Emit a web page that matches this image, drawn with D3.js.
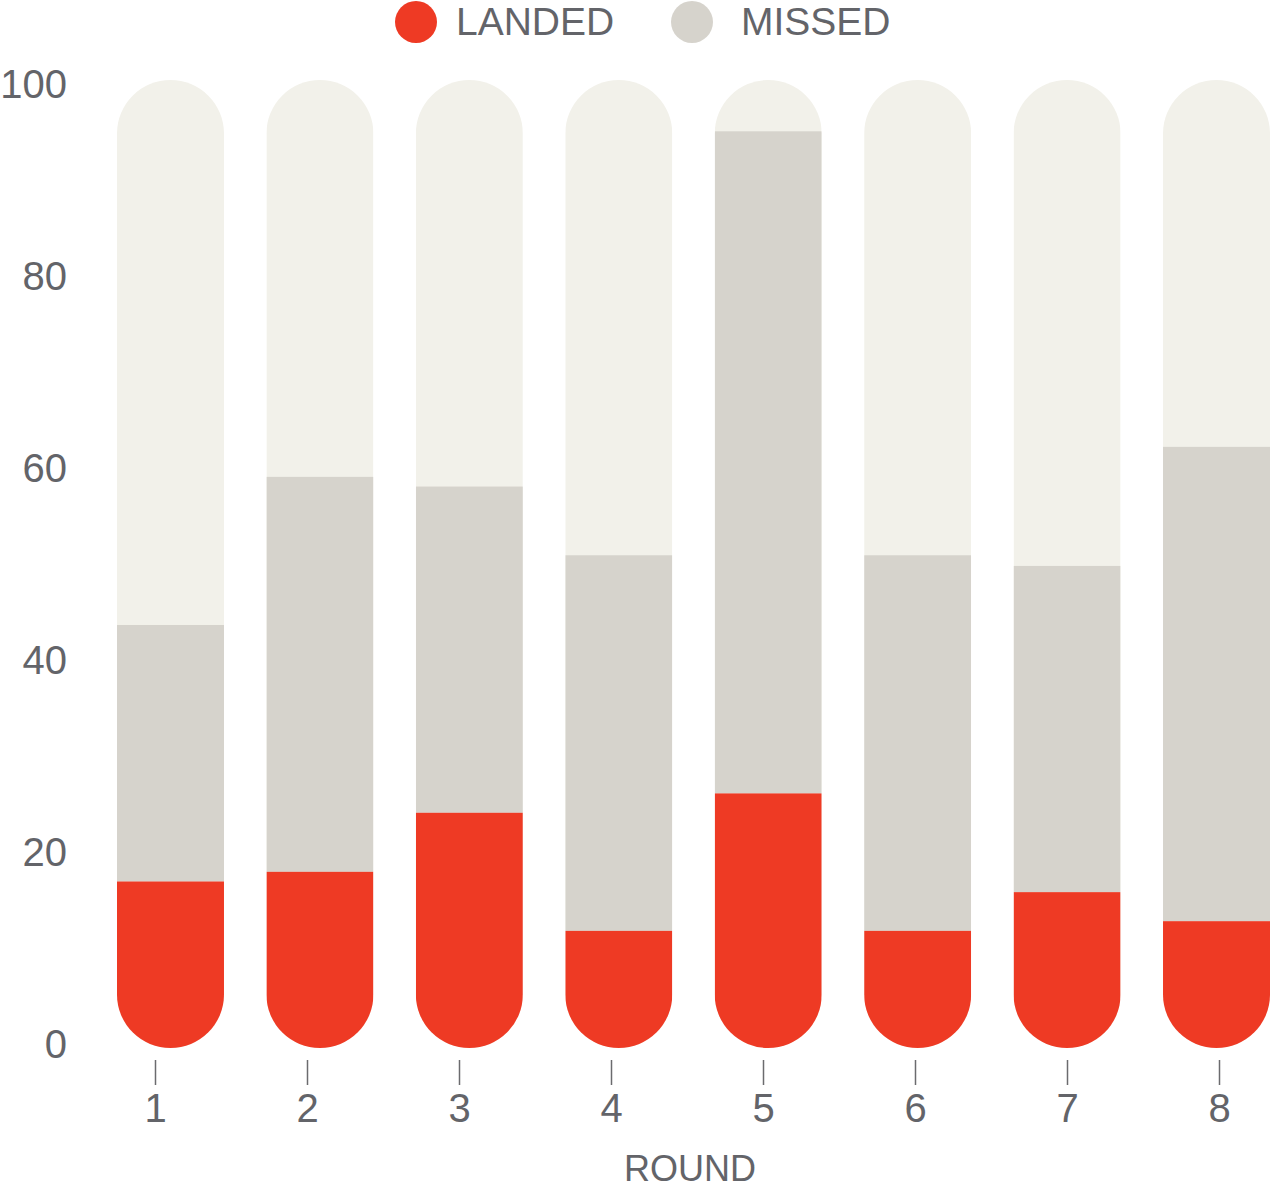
<!DOCTYPE html>
<html>
<head>
<meta charset="utf-8">
<script src="https://cdn.jsdelivr.net/npm/d3@7"></script>
<style>
  body { margin: 0; background: #fff; }
  text { font-family: "Liberation Sans", Arial, sans-serif; fill: #636469; }
</style>
</head>
<body>
<svg id="chart"></svg>
<script>
// rounds and share of punches (percent)
var rounds = ["1", "2", "3", "4", "5", "6", "7", "8"];
var landed = [17.2, 18.2, 24.3, 12.1, 26.3, 12.1, 16.1, 13.1];
var missed = [26.5, 40.8, 33.7, 38.8, 68.4, 38.8, 33.7, 49.0];
var yTicks = [0, 20, 40, 60, 80, 100];
var seriesNames = ["LANDED", "MISSED"];

var colors = { landed: "#ee3a24", missed: "#d6d3cc", back: "#f2f1ea" };

var width = 1287, height = 1188;

var svg = d3.select("#chart")
    .attr("width", width)
    .attr("height", height);

var data = rounds.map(function (r, i) {
    return { round: r, landed: landed[i], missed: missed[i] };
});

var y = d3.scaleLinear().domain([0, 100]).range([1048, 80]);
// labels sit a little inside the bar range
var yLabel = d3.scaleLinear().domain([0, 100]).range([1045, 85]);

var x = d3.scaleBand()
    .domain(rounds)
    .range([117, 1270])
    .paddingInner(0.284)
    .paddingOuter(0);

// tick marks under the bars use their own spacing
var xTick = d3.scalePoint()
    .domain(rounds)
    .range([155, 1219]);

// pill shaped clip for every bar
var defs = svg.append("defs");
defs.selectAll("clipPath")
    .data(data)
    .enter()
    .append("clipPath")
    .attr("id", function (d) { return "pill" + d.round; })
    .append("rect")
    .attr("x", function (d) { return x(d.round); })
    .attr("y", y(100))
    .attr("width", x.bandwidth())
    .attr("height", y(0) - y(100))
    .attr("rx", x.bandwidth() / 2)
    .attr("ry", x.bandwidth() / 2);

var bars = svg.selectAll(".bar")
    .data(data)
    .enter()
    .append("g")
    .attr("class", "bar")
    .attr("clip-path", function (d) { return "url(#pill" + d.round + ")"; });

bars.append("rect")
    .attr("x", function (d) { return x(d.round); })
    .attr("y", y(100))
    .attr("width", x.bandwidth())
    .attr("height", y(0) - y(100))
    .attr("fill", colors.back);

bars.append("rect")
    .attr("x", function (d) { return x(d.round); })
    .attr("y", function (d) { return y(d.landed + d.missed); })
    .attr("width", x.bandwidth())
    .attr("height", function (d) { return y(d.landed) - y(d.landed + d.missed); })
    .attr("fill", colors.missed);

bars.append("rect")
    .attr("x", function (d) { return x(d.round); })
    .attr("y", function (d) { return y(d.landed); })
    .attr("width", x.bandwidth())
    .attr("height", function (d) { return y(0) - y(d.landed); })
    .attr("fill", colors.landed);

// y axis (labels only)
var yAxis = svg.append("g")
    .attr("transform", "translate(70,0)")
    .call(d3.axisLeft(yLabel).tickValues(yTicks).tickSize(0).tickPadding(3));
yAxis.select(".domain").remove();
yAxis.selectAll("text")
    .style("font-size", "40px")
    .attr("fill", "#636469");

// x axis
var xAxis = svg.append("g")
    .attr("transform", "translate(0,1060)")
    .call(d3.axisBottom(xTick).tickSize(25).tickPadding(9));
xAxis.select(".domain").remove();
xAxis.selectAll("line")
    .attr("stroke", "#6b6b6e")
    .attr("stroke-width", 1.5);
xAxis.selectAll("text")
    .style("font-size", "40px")
    .attr("fill", "#636469");

svg.append("text")
    .attr("x", 690)
    .attr("y", 1181)
    .attr("text-anchor", "middle")
    .style("font-size", "36px")
    .text("ROUND");

// legend
var legendX = [416, 692];
var legendColors = [colors.landed, colors.missed];
var legend = svg.selectAll(".legend")
    .data(seriesNames)
    .enter()
    .append("g")
    .attr("class", "legend")
    .attr("transform", function (d, i) { return "translate(" + legendX[i] + ",22)"; });

legend.append("circle")
    .attr("r", 21)
    .attr("fill", function (d, i) { return legendColors[i]; });

legend.append("text")
    .attr("x", function (d, i) { return i === 0 ? 40 : 49; })
    .attr("y", 13)
    .style("font-size", "39px")
    .text(function (d) { return d; });
</script>
</body>
</html>
